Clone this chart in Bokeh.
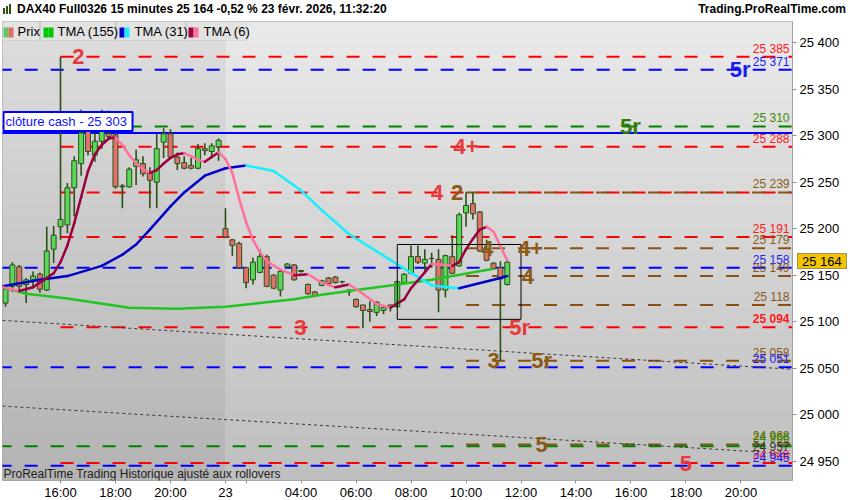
import numpy as np
from bokeh.plotting import figure
from bokeh.models import Label, BoxAnnotation, FixedTicker, Range1d, Div
from bokeh.layouts import column
from bokeh.embed import file_html
from bokeh.resources import INLINE

# ---------------- data ----------------
# bar index k: 15-minute bars, k=0 -> Fri 16:00, k=24 -> Mon 01:15 (session start)
bar_k = list(range(-8, 66))
open_ = [25120, 25138, 25159, 25140, 25145, 25151, 25134, 25178, 25202, 25204,
         25244, 25270, 25322, 25279, 25294, 25302, 25301, 25245, 25245, 25267,
         25270, 25260, 25250, 25293, 25302, 25277, 25271, 25268, 25265, 25286,
         25283, 25288, 25200, 25188, 25184, 25158, 25145, 25153, 25170, 25150,
         25134, 25159, 25161, 25154, 25140, 25132, 25139, 25147, 25148, 25143,
         25132, 25124, 25118, 25113, 25110, 25112, 25118, 25116, 25142, 25152,
         25170, 25163, 25168, 25167, 25134, 25170, 25160, 25217, 25227, 25218,
         25178, 25163, 25158, 25140]
high = [25138, 25164, 25161, 25147, 25154, 25153, 25202, 25203, 25385, 25249,
        25278, 25328, 25326, 25303, 25328, 25327, 25303, 25248, 25266, 25285,
        25278, 25266, 25302, 25308, 25307, 25282, 25278, 25276, 25291, 25292,
        25292, 25297, 25222, 25189, 25186, 25159, 25169, 25178, 25172, 25151,
        25155, 25163, 25162, 25155, 25141, 25133, 25145, 25148, 25149, 25144,
        25135, 25125, 25118, 25122, 25122, 25116, 25118, 25144, 25152, 25182,
        25182, 25178, 25174, 25178, 25172, 25193, 25217, 25239, 25239, 25219,
        25188, 25164, 25165, 25165]
low = [25116, 25132, 25131, 25120, 25136, 25131, 25133, 25163, 25188, 25195,
       25213, 25257, 25279, 25272, 25286, 25295, 25243, 25222, 25244, 25247,
       25256, 25222, 25222, 25276, 25277, 25263, 25264, 25264, 25264, 25279,
       25277, 25273, 25190, 25171, 25157, 25136, 25140, 25152, 25137, 25135,
       25127, 25158, 25144, 25153, 25129, 25127, 25138, 25140, 25141, 25141,
       25128, 25115, 25093, 25100, 25106, 25108, 25111, 25115, 25141, 25151,
       25162, 25152, 25158, 25110, 25126, 25151, 25159, 25202, 25210, 25175,
       25165, 25156, 25058, 25139]
close = [25135, 25161, 25138, 25145, 25149, 25135, 25176, 25193, 25210, 25244,
         25273, 25303, 25283, 25294, 25315, 25299, 25245, 25246, 25264, 25274,
         25259, 25252, 25286, 25302, 25277, 25270, 25265, 25265, 25286, 25284,
         25289, 25295, 25191, 25182, 25158, 25142, 25164, 25170, 25138, 25136,
         25154, 25162, 25145, 25155, 25130, 25128, 25144, 25141, 25142, 25143,
         25134, 25116, 25112, 25111, 25121, 25115, 25116, 25143, 25151, 25170,
         25164, 25167, 25168, 25134, 25171, 25152, 25215, 25225, 25216, 25176,
         25166, 25157, 25146, 25164]

tma155_k = [-8.4, -5, 1, 10, 17, 24, 29, 34, 38, 43, 48, 54, 63]
tma155_v = [25137, 25130, 25125, 25115, 25114, 25116, 25120, 25124, 25129, 25134,
            25139, 25145, 25157]

tma31_k = [-8.4, -3, 1, 6, 9, 11, 13, 16, 18, 21, 24, 27, 31, 35, 38, 42, 47, 50,
           54, 58, 64, 65]
tma31_v = [25138, 25145, 25149, 25160, 25172, 25183, 25199, 25224, 25239, 25257,
           25265, 25268, 25262, 25241, 25220, 25194, 25171, 25157, 25139, 25136,
           25147, 25149]

tma6_k = [-8.4, -6, -4, -3, -1, 0] + list(range(1, 31)) + \
         [32, 34, 36, 38, 40, 42, 44, 46, 48, 50, 51, 53, 54, 56, 57] + list(range(58, 66))
tma6_v = [25137, 25133, 25137, 25142, 25152, 25164,
          25182, 25206, 25234, 25262, 25280, 25290, 25297, 25298, 25290, 25279,
          25270, 25264, 25260, 25263, 25270, 25276, 25280, 25281, 25278, 25274,
          25272, 25277, 25282, 25275, 25260, 25232, 25207, 25188, 25175, 25165,
          25156, 25150, 25151, 25142, 25137, 25140, 25130, 25119, 25115, 25124,
          25136, 25153, 25162, 25161, 25160,
          25164, 25178, 25189, 25199, 25202, 25197, 25181, 25166]

# horizontal levels
level_price = [25385, 25371, 25310, 25288, 25239, 25239, 25191, 25179, 25158, 25149,
               25118, 25094, 25058, 25051, 24968, 24966, 24948, 24945]
level_family = ["red", "blue", "green", "red", "red", "brown", "red", "brown", "blue",
                "brown", "brown", "red", "brown", "blue", "brown", "green", "red", "blue"]
family_start = {"red": 0, "brown": 59, "blue": -9, "green": -9}
cash_close = 25303

# right-hand price labels of the levels
tag_price = [25385, 25371, 25310, 25288, 25239, 25191, 25179, 25158, 25149, 25118,
             25094, 25058, 25051, 24968, 24966, 24948, 24945]
tag_family = ["red", "blue", "green", "red", "brown", "red", "brown", "blue", "brown",
              "brown", "red", "brown", "blue", "olive", "green", "red", "blue"]
tag_bold = [25094]

# level markers written on the chart
mark_text = ["2", "5r", "5r", "4+", "4", "2", "4", "4+", "4", "3", "5r", "3", "5r", "5", "5"]
mark_k = [2.6, 98.9, 82.9, 59, 54.8, 57.7, 62.1, 68.4, 68, 34.9, 66.8, 63, 70, 70, 91]
mark_price = [25385, 25371, 25310, 25288, 25239, 25239, 25179, 25179, 25149, 25094,
              25094, 25058, 25058, 24968, 24948]
mark_family = ["red", "blue", "green", "red", "red", "brown", "brown", "brown", "brown",
               "red", "red", "brown", "brown", "brown", "red"]

# dotted trend lines (start / end)
trend_k = [[-8.44, 106.5], [-8.44, 106.5]]
trend_v = [[25101.4, 25048.8], [25009.2, 24957.8]]
trend_tag = "24 957"

# black box
box_k = [49, 67]
box_v = [25102.5, 25183]

last_price = 25164

ytick_values = [24950, 25000, 25050, 25100, 25150, 25200, 25250, 25300, 25350, 25400]
xtick_k = [0, 8, 16, 24, 27, 35, 43, 51, 59, 67, 75, 83, 91, 99]
xtick_labels = ["16:00", "18:00", "20:00", "23", "", "04:00", "06:00", "08:00",
                "10:00", "12:00", "14:00", "16:00", "18:00", "20:00"]

title_text = "DAX40 Full0326 15 minutes 25 164 -0,52 % 23 févr. 2026, 11:32:20"
site_text = "Trading.ProRealTime.com"


def fmt(v):
    return f"{v:,}".replace(",", " ")


# ---------------- styles ----------------
FONT = "Liberation Sans"
X0, X1 = -8.44, 106.5
Y0, Y1 = 24929.2, 25422.8
FW, FH = 790, 459
HEAD_H = 20
line_col = {"red": "#ff0000", "blue": "#0000ff", "green": "#008000", "brown": "#8c5014"}
tag_col = {"red": "#ff1a1a", "blue": "#1a1aff", "green": "#3a8a00", "brown": "#8a5a19",
           "olive": "#6e6200"}
mark_col = {"red": "#e83a3a", "blue": "#1a1aee", "green": "#2e7d0e", "brown": "#8b5a14"}

p = figure(frame_width=FW, frame_height=FH, x_range=Range1d(X0, X1),
           y_range=Range1d(Y0, Y1), y_axis_location="right",
           toolbar_location=None, output_backend="svg",
           min_border_left=2, min_border_right=58, min_border_top=1,
           min_border_bottom=18, background_fill_color="#d0d0d0",
           border_fill_color="white", outline_line_color="#a0a0a0")
p.xgrid.visible = False
p.ygrid.visible = False


def lerp(c0, c1, t):
    a = [int(c0[i:i + 2], 16) for i in (1, 3, 5)]
    b = [int(c1[i:i + 2], 16) for i in (1, 3, 5)]
    return "#%02x%02x%02x" % tuple(int(round(a[j] + (b[j] - a[j]) * t)) for j in range(3))


# gradient background (Friday session darker)
N = 40
edges = np.linspace(Y0, Y1, N + 1)
for x0, x1, bot, top in [(X0 - 1, 24, "#b3b3b3", "#dedede"), (24, X1 + 1, "#bebebe", "#eaeaea")]:
    cols = [lerp(bot, top, (i + 0.5) / N) for i in range(N)]
    p.quad(left=x0, right=x1, bottom=edges[:-1], top=edges[1:] + 0.6,
           fill_color=cols, line_color=None)

# levels
for price, fam in zip(level_price, level_family):
    p.segment(x0=family_start[fam], y0=price, x1=X1 + 2, y1=price,
              line_color=line_col[fam], line_width=2, line_dash="13 13")
p.segment(x0=X0 - 1, y0=cash_close, x1=X1 + 2, y1=cash_close, line_color="#0000ff", line_width=2)

# trend lines
for tk, tv in zip(trend_k, trend_v):
    p.line(tk, tv, line_color="#3a3a3a", line_width=1, line_dash="3 3")

# candles
bk = np.array(bar_k, dtype=float)
o = np.array(open_, dtype=float)
c = np.array(close, dtype=float)
fill = np.where(c > o, "#58d858", np.where(c < o, "#e2716c", "#3a6a20"))
p.segment(x0=bk, y0=low, x1=bk, y1=high, line_color="#2b5016", line_width=1.6)
p.vbar(x=bk, width=0.72, top=np.maximum(o, c), bottom=np.minimum(o, c),
       fill_color=list(fill), line_color="#2b5016", line_width=1)


def colored(ks, vs, up, down, width):
    ks = np.array(ks, dtype=float)
    vs = np.array(vs, dtype=float)
    cols = [up if vs[i + 1] >= vs[i] else down for i in range(len(vs) - 1)]
    p.segment(x0=ks[:-1], y0=vs[:-1], x1=ks[1:], y1=vs[1:], line_color=cols,
              line_width=width, line_cap="round")


p.line(tma155_k, tma155_v, line_color="#22c422", line_width=2.5)
colored(tma31_k, tma31_v, "#0000c8", "#14f0ff", 2.5)
colored(tma6_k, tma6_v, "#99003d", "#ff709c", 2.5)

# black box
p.quad(left=box_k[0], right=box_k[1], bottom=box_v[0], top=box_v[1],
       fill_color=None, line_color="black", line_width=1)

# markers on levels
for t, k, pr, fam in zip(mark_text, mark_k, mark_price, mark_family):
    p.add_layout(Label(x=k, y=pr, text=t, text_align="center", text_baseline="middle",
                       text_font=FONT, text_font_size="22px", text_font_style="bold",
                       text_color=mark_col[fam]))

# price tags on right edge of frame
for pr, fam in zip(tag_price, tag_family):
    p.add_layout(Label(x=FW - 3, x_units="screen", y=pr, text=fmt(pr),
                       text_align="right", text_baseline="bottom", y_offset=1,
                       text_font=FONT, text_font_size="12px", text_color=tag_col[fam],
                       text_font_style="bold" if pr in tag_bold else "normal"))
p.add_layout(Label(x=FW - 3, x_units="screen", y=trend_v[1][1], text=trend_tag,
                   text_align="right", text_baseline="bottom", text_font=FONT,
                   text_font_size="12px", text_color="#333333"))

# cash close box
p.add_layout(Label(x=1, x_units="screen", y=cash_close,
                   text="clôture cash -  " + fmt(cash_close),
                   text_align="left", text_baseline="bottom", y_offset=2,
                   text_font=FONT, text_font_size="13px", text_color="#1010ff",
                   background_fill_color="white", border_line_color="#0000ff",
                   border_line_width=2, padding=2))

# legend row at top of frame
p.add_layout(BoxAnnotation(left=0, right=244, bottom=FH - 19, top=FH, left_units="screen",
                           right_units="screen", bottom_units="screen", top_units="screen",
                           fill_color="#e2e2e2", fill_alpha=1, line_color="#b8b8b8"))
for sep in [37, 113, 183]:
    p.add_layout(BoxAnnotation(left=sep, right=sep + 1, bottom=FH - 19, top=FH,
                               left_units="screen", right_units="screen",
                               bottom_units="screen", top_units="screen",
                               fill_color="#b8b8b8", fill_alpha=1, line_color=None))
for x0, c1, c2 in [(1, "#5ec95e", "#e06a6a"), (41, "#00c800", "#00c800"),
                   (117, "#0000c8", "#14f0ff"), (186, "#99003d", "#ff709c")]:
    for dx, col in [(0, c1), (5, c2)]:
        p.add_layout(BoxAnnotation(left=x0 + dx, right=x0 + dx + 5, bottom=FH - 16, top=FH - 6,
                                   left_units="screen", right_units="screen",
                                   bottom_units="screen", top_units="screen",
                                   fill_color=col, fill_alpha=1, line_color=None))
for x0, t in [(15, "Prix"), (55, "TMA (155)"), (132, "TMA (31)"), (201, "TMA (6)")]:
    p.add_layout(Label(x=x0, y=FH - 10, x_units="screen", y_units="screen", text=t,
                       text_baseline="middle", text_font=FONT, text_font_size="13px",
                       text_color="black"))

# footer text
p.add_layout(Label(x=1, y=0, x_units="screen", y_units="screen",
                   text="ProRealTime Trading  Historique ajusté aux rollovers",
                   text_baseline="bottom", text_font=FONT, text_font_size="12px",
                   text_color="#1e1e1e"))

# axes
p.yaxis.ticker = FixedTicker(ticks=ytick_values)
p.yaxis.major_label_overrides = {v: fmt(v) for v in ytick_values}
p.yaxis.major_label_text_font = FONT
p.yaxis.major_label_text_font_size = "13px"
p.yaxis.major_label_text_color = "black"
p.yaxis.major_tick_in = 0
p.yaxis.major_tick_out = 4
p.yaxis.minor_tick_line_color = None
p.yaxis.major_tick_line_color = "#909090"
p.yaxis.axis_line_color = "#a0a0a0"
p.yaxis.major_label_standoff = 3

p.xaxis.ticker = FixedTicker(ticks=xtick_k)
p.xaxis.major_label_overrides = {k: t for k, t in zip(xtick_k, xtick_labels)}
p.xaxis.major_label_text_font = FONT
p.xaxis.major_label_text_font_size = "13px"
p.xaxis.major_label_text_color = "black"
p.xaxis.major_tick_in = 0
p.xaxis.major_tick_out = 3
p.xaxis.minor_tick_line_color = None
p.xaxis.major_tick_line_color = "#909090"
p.xaxis.axis_line_color = None
p.xaxis.major_label_standoff = 1

# header (title line, site name) and the last-price tag laid over the price axis
tag_center = HEAD_H + 1 + (Y1 - last_price) / (Y1 - Y0) * FH
tag_left = 2 + FW + 5
icon = ("<span style='display:inline-block;vertical-align:middle;margin:0 6px 0 3px;'>"
        "<span style='display:inline-block;width:2px;height:6px;background:#5ac85a;"
        "border:1px solid #2b5016;margin-right:1px;'></span>"
        "<span style='display:inline-block;width:2px;height:8px;background:#5ac85a;"
        "border:1px solid #2b5016;margin-right:1px;'></span>"
        "<span style='display:inline-block;width:2px;height:10px;background:#5ac85a;"
        "border:1px solid #2b5016;'></span></span>")
tag = (f"<span style=\"position:absolute;left:{tag_left}px;top:{tag_center - 9:.1f}px;"
       "height:16px;line-height:16px;padding:0 4px;background:#f5c400;white-space:nowrap;"
       "border:1px solid #a09060;font-family:'Liberation Sans',Arial,sans-serif;"
       f"font-size:13px;font-weight:normal;color:#000;z-index:10;\">{fmt(last_price)}</span>")
header = Div(text=("<div style=\"position:relative;width:846px;height:20px;\">"
                   "<div style=\"display:flex;justify-content:space-between;align-items:center;"
                   "width:846px;height:20px;font-family:'Liberation Sans',Arial,sans-serif;"
                   "font-size:12px;font-weight:bold;color:#000;white-space:nowrap;\">"
                   f"<span>{icon}{title_text}</span><span>{site_text}</span></div>"
                   f"{tag}</div>"),
             width=850, height=HEAD_H, margin=0,
             styles={"overflow": "visible", "z-index": "10"})

layout = column(header, p, spacing=0)
open("out.html", "w").write(file_html(layout, INLINE))
